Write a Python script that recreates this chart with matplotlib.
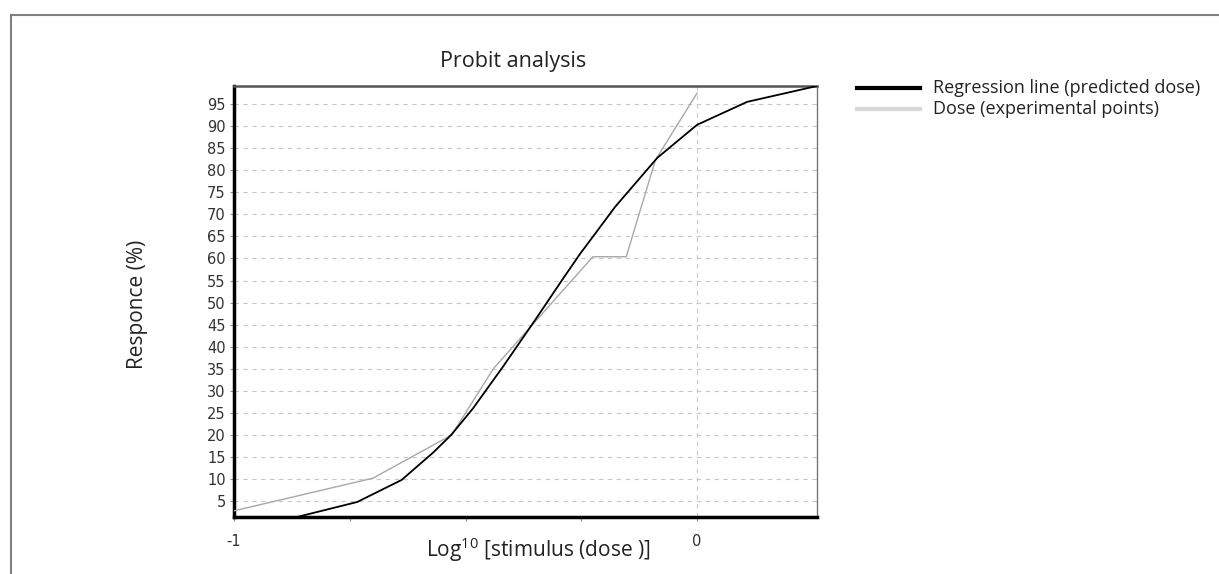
import numpy as np
import matplotlib.pyplot as plt
from matplotlib.lines import Line2D

plt.rcParams['mathtext.fontset'] = 'custom'
plt.rcParams['mathtext.rm'] = 'Open Sans'

# Regression line (predicted dose)
reg_x = [-0.864, -0.734, -0.638, -0.57, -0.531, -0.484, -0.419, -0.350, -0.289,
         -0.253, -0.216, -0.177, -0.086, 0.0, 0.108, 0.259]
reg_y = [1.4, 4.8, 9.8, 16.0, 20.0, 26.0, 35.5, 46.0, 55.5,
         61.0, 66.2, 71.7, 82.8, 90.3, 95.5, 99.1]

# Dose (experimental points)
exp_x = [-1.0, -0.70, -0.53, -0.44, -0.225, -0.153, -0.09, 0.0]
exp_y = [2.8, 10.2, 20.0, 35.0, 60.4, 60.4, 82.3, 97.5]

y_ticks = list(range(5, 100, 5))
x_ticks = [-1, -0.75, -0.5, -0.25, 0]
x_labels = ['-1', '', '', '', '0']

W, H = 1219, 574
fig = plt.figure(figsize=(W / 100, H / 100), dpi=100)
ax = fig.add_axes([234 / W, 1 - 517 / H, (817 - 234) / W, (517 - 86) / H])

ax.plot(exp_x, exp_y, color='#a8a8a8', lw=1.0, zorder=3)
ax.plot(reg_x, reg_y, color='black', lw=1.3, zorder=4)

ax.set_xlim(-1, 0.259)
ax.set_ylim(1.4, 99.1)
ax.set_yticks(y_ticks)
ax.set_xticks(x_ticks)
ax.set_xticklabels(x_labels)

# dashed grid: all horizontal lines, only x = 0 vertical
for yv in y_ticks:
    ax.axhline(yv, color='#c8c8c8', lw=0.8, ls=(0, (4, 4)), zorder=1)
ax.axvline(0, color='#c8c8c8', lw=0.8, ls=(0, (4, 4)), zorder=1)

ax.tick_params(axis='both', direction='out', length=3, width=0.8, color='#909090',
               labelsize=10.5, labelcolor='#333333')
ax.tick_params(axis='y', pad=3)
ax.tick_params(axis='x', pad=9)

ax.spines['left'].set_linewidth(2.5)
ax.spines['bottom'].set_linewidth(2.5)
ax.spines['left'].set_color('black')
ax.spines['bottom'].set_color('black')
ax.spines['top'].set_linewidth(1.8)
ax.spines['top'].set_color('#555555')
ax.spines['right'].set_linewidth(1.0)
ax.spines['right'].set_color('#777777')

fig.text(513 / W, 1 - 61 / H, 'Probit analysis', ha='center', va='center', fontsize=15.5,
         family='Open Sans', color='#222222')
fig.text(137 / W, 1 - 304 / H, 'Responce (%)', ha='center', va='center', rotation=90,
         fontsize=15, family='Open Sans', color='#222222')
fig.text(538 / W, 1 - 550 / H, r'Log$^{\mathrm{10}}$ [stimulus (dose )]', ha='center', va='center',
         fontsize=15, family='Open Sans', color='#222222')

# legend drawn in figure coordinates
fig.add_artist(Line2D([857 / W, 920 / W], [1 - 88 / H, 1 - 88 / H], color='black', lw=3))
fig.add_artist(Line2D([857 / W, 920 / W], [1 - 109 / H, 1 - 109 / H], color='#d8d8d8', lw=3))
fig.text(933 / W, 1 - 88 / H, 'Regression line (predicted dose)', ha='left', va='center',
         fontsize=13, family='Open Sans', color='#222222')
fig.text(933 / W, 1 - 109 / H, 'Dose (experimental points)', ha='left', va='center',
         fontsize=13, family='Open Sans', color='#222222')

# outer frame (top and left)
fig.add_artist(Line2D([11 / W, 1.0], [1 - 15 / H, 1 - 15 / H], color='#808080', lw=1.5))
fig.add_artist(Line2D([11 / W, 11 / W], [1 - 15 / H, 0.0], color='#808080', lw=1.5))

fig.savefig('out.png', dpi=100)
